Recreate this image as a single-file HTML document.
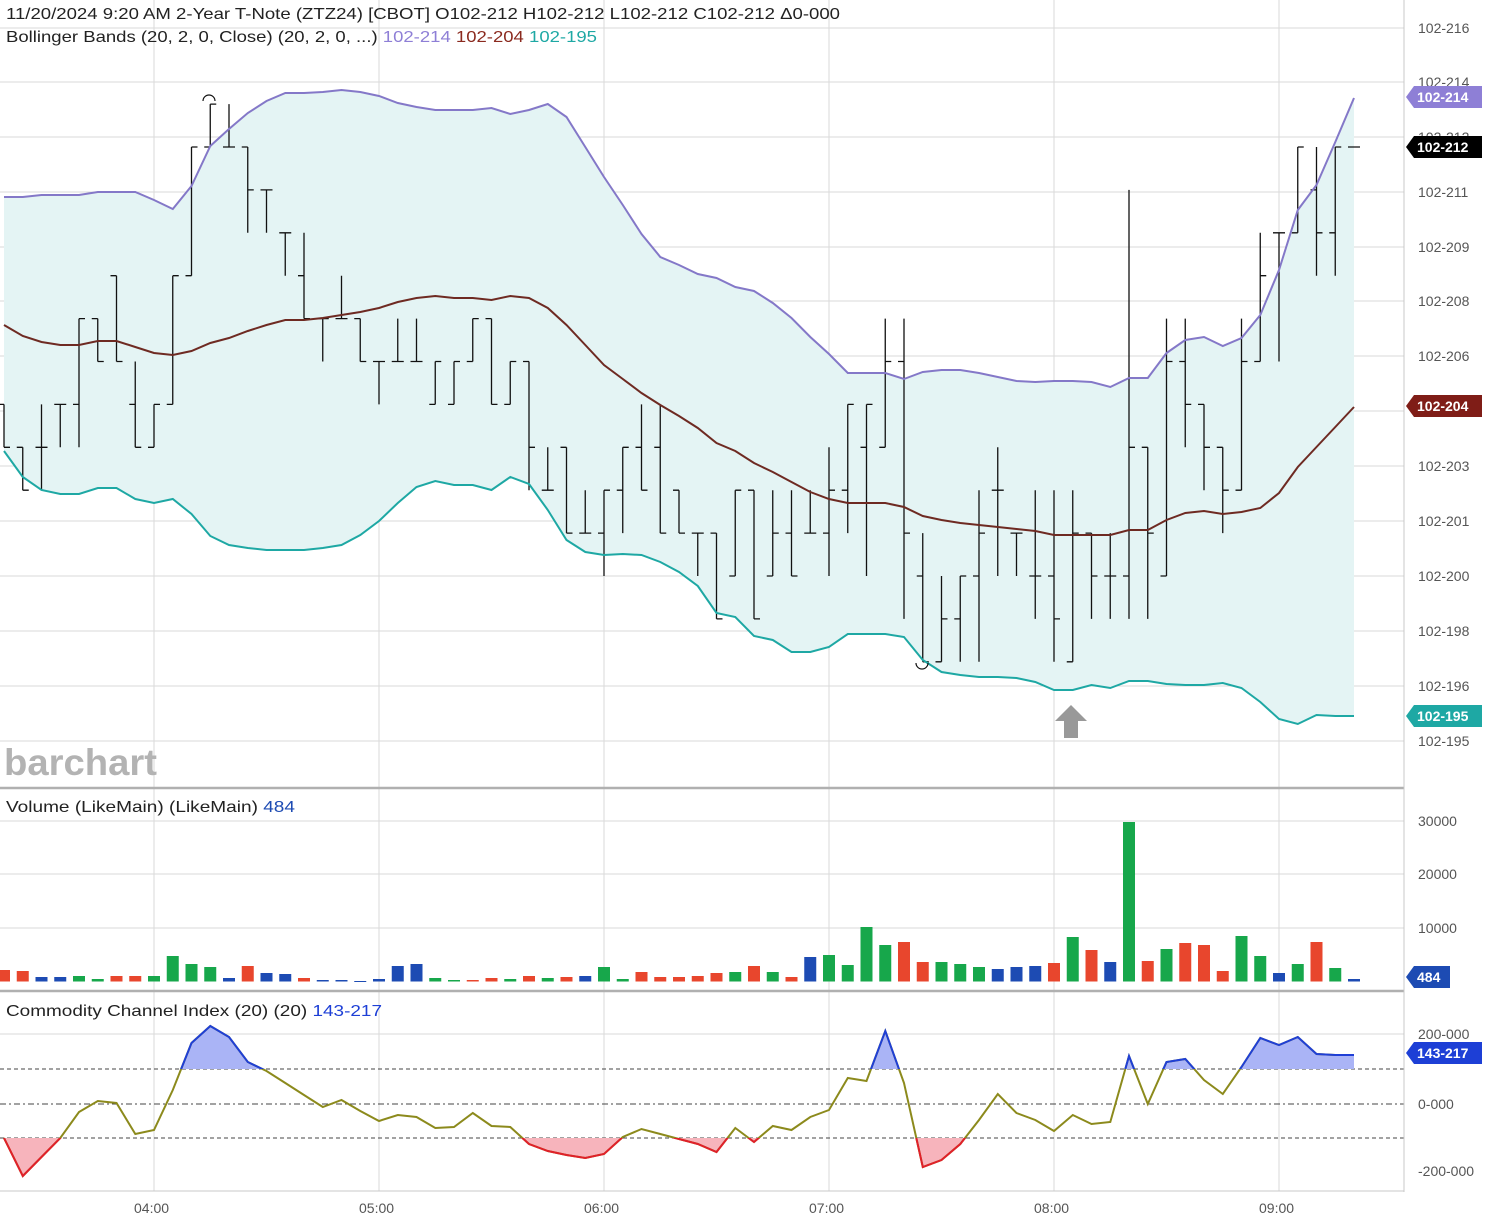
<!DOCTYPE html>
<html><head><meta charset="utf-8"><style>
html,body{margin:0;padding:0;background:#fff}
svg{display:block;font-family:"Liberation Sans",sans-serif}
</style></head><body>
<svg id="s" width="1486" height="1226" xmlns="http://www.w3.org/2000/svg">
<defs>
<clipPath id="cu"><rect x="0" y="990" width="1404" height="79"/></clipPath>
<clipPath id="cd"><rect x="0" y="1138" width="1404" height="60"/></clipPath>
</defs>
<g id="grid" stroke="#dadada" stroke-width="1"></g>
<path id="band" fill="#e4f4f4" stroke="none"/>
<g id="bars" stroke="#111" stroke-width="1.3" fill="none"></g>
<polyline id="up" fill="none" stroke="#8478c8" stroke-width="2"/>
<polyline id="mid" fill="none" stroke="#6e2a22" stroke-width="2"/>
<polyline id="lo" fill="none" stroke="#1ea8a4" stroke-width="2"/>
<path d="M203,101 a6,6 0 0 1 12,0" fill="none" stroke="#111" stroke-width="1.2"/>
<path d="M916,663 a6,6 0 0 0 12,0" fill="none" stroke="#111" stroke-width="1.2"/>
<path d="M1071,705 L1087,721 L1078,721 L1078,738 L1064,738 L1064,721 L1055,721 Z" fill="#999"/>
<text x="4" y="775" font-size="37" font-weight="bold" fill="#b3b3b3" textLength="153" lengthAdjust="spacingAndGlyphs">barchart</text>
<g id="vol"></g>
<g id="cci"></g>
<line x1="0" y1="788" x2="1404" y2="788" stroke="#b0b0b0" stroke-width="2.5"/>
<line x1="0" y1="991" x2="1404" y2="991" stroke="#b0b0b0" stroke-width="2.5"/>
<line x1="1404" y1="0" x2="1404" y2="1192" stroke="#c8c8c8" stroke-width="1"/>
<line x1="0" y1="1191" x2="1404" y2="1191" stroke="#c8c8c8" stroke-width="1"/>
<g font-size="14" fill="#555">
<text x="1418" y="33">102-216</text><text x="1418" y="87">102-214</text><text x="1418" y="142">102-212</text>
<text x="1418" y="197">102-211</text><text x="1418" y="252">102-209</text><text x="1418" y="306">102-208</text>
<text x="1418" y="361">102-206</text><text x="1418" y="471">102-203</text><text x="1418" y="526">102-201</text>
<text x="1418" y="581">102-200</text><text x="1418" y="636">102-198</text><text x="1418" y="691">102-196</text>
<text x="1418" y="746">102-195</text>
<text x="1418" y="826">30000</text><text x="1418" y="879">20000</text><text x="1418" y="933">10000</text>
<text x="1418" y="1039">200-000</text><text x="1418" y="1109">0-000</text><text x="1418" y="1176">-200-000</text>
<text x="134" y="1213">04:00</text><text x="359" y="1213">05:00</text><text x="584" y="1213">06:00</text>
<text x="809" y="1213">07:00</text><text x="1034" y="1213">08:00</text><text x="1259" y="1213">09:00</text>
</g>
<g font-size="14" font-weight="bold" fill="#fff">
<path d="M1406,97 l8,-11 h68 v22 h-68 z" fill="#8e7fd6"/><text x="1417" y="102">102-214</text>
<path d="M1406,147 l8,-11 h68 v22 h-68 z" fill="#000"/><text x="1417" y="152">102-212</text>
<path d="M1406,406 l8,-11 h68 v22 h-68 z" fill="#7f1d17"/><text x="1417" y="411">102-204</text>
<path d="M1406,716 l8,-11 h68 v22 h-68 z" fill="#1ea8a4"/><text x="1417" y="721">102-195</text>
<path d="M1406,977 l8,-11 h36 v22 h-36 z" fill="#1d4bb3"/><text x="1417" y="982">484</text>
<path d="M1406,1053 l8,-11 h68 v22 h-68 z" fill="#1d3fd6"/><text x="1417" y="1058">143-217</text>
</g>
<g font-size="16" fill="#222">
<text x="6" y="19" textLength="834" lengthAdjust="spacingAndGlyphs">11/20/2024 9:20 AM  2-Year T-Note (ZTZ24) [CBOT]  O102-212  H102-212  L102-212  C102-212  Δ0-000</text>
<text x="6" y="42" textLength="591" lengthAdjust="spacingAndGlyphs">Bollinger Bands (20, 2, 0, Close)  (20, 2, 0, ...) <tspan fill="#8e7fd6">102-214</tspan> <tspan fill="#8b2a1f">102-204</tspan> <tspan fill="#1ea8a4">102-195</tspan></text>
<text x="6" y="812" textLength="289" lengthAdjust="spacingAndGlyphs">Volume (LikeMain)  (LikeMain) <tspan fill="#1d4bb3">484</tspan></text>
<text x="6" y="1016" textLength="376" lengthAdjust="spacingAndGlyphs">Commodity Channel Index (20)  (20) <tspan fill="#1d3fd6">143-217</tspan></text>
</g>
</svg>
<script>
var NS="http://www.w3.org/2000/svg";
function el(t,a,p){var e=document.createElementNS(NS,t);for(var k in a)e.setAttribute(k,a[k]);document.getElementById(p).appendChild(e);return e;}
var g='grid';
[28,82,137,192,247,301,356,411,466,521,576,631,686,741].forEach(function(y){el('line',{x1:0,y1:y,x2:1404,y2:y},g)});
[821,874,928,1034].forEach(function(y){el('line',{x1:0,y1:y,x2:1404,y2:y},g)});
[154,379,604,829,1054,1279].forEach(function(x){el('line',{x1:x,y1:0,x2:x,y2:1191},g)});
function X(i){return 4+18.75*i}
function parse(s){return s.trim().split(/\s+/).map(Number)}
var U=parse("197 197 195 195 195 192 192 192 200 209 186 146 129 113 101 93 93 92 90 92 96 103 107 110 110 110 108 114 110 104 117 147 177 205 234 257 265 274 278 287 291 303 318 337 354 373 373 373 379 372 370 370 373 377 381 382 381 381 382 387 378 378 353 340 337 346 338 315 270 210 185 142 98");
var M=parse("325 336 342 345 345 341 341 347 353 355 351 343 338 331 325 320 320 318 315 312 308 302 298 296 298 298 300 296 298 308 325 345 365 379 393 405 416 428 443 451 463 472 482 492 499 503 503 503 507 516 520 523 525 527 529 531 535 535 535 535 530 530 520 513 511 514 512 508 493 467 447 427 407");
var L=parse("451 477 490 494 494 488 488 499 503 499 514 536 545 548 550 550 550 548 545 535 521 503 487 481 485 485 490 477 484 510 540 552 555 554 555 562 572 586 613 617 636 640 652 652 647 634 634 634 637 660 672 675 677 677 678 682 690 690 685 688 681 681 684 685 685 683 688 702 719 724 715 716 716");
function pts(a){return a.map(function(y,i){return X(i).toFixed(1)+','+y}).join(' ')}
document.getElementById('up').setAttribute('points',pts(U));
document.getElementById('mid').setAttribute('points',pts(M));
document.getElementById('lo').setAttribute('points',pts(L));
var d='M'+U.map(function(y,i){return X(i)+','+y}).join(' L');
for(var i=L.length-1;i>=0;i--)d+=' L'+X(i)+','+L[i];
document.getElementById('band').setAttribute('d',d+'Z');
var B="6,7,6,7|7,8,7,8|6,8,7,7|6,7,6,6|4,7,6,4|4,5,4,5|3,5,3,5|5,7,6,7|6,7,7,6|3,6,6,3|0,3,3,0|-1,0,0,-1|-1,0,0,0|0,2,0,1|1,2,1,1|2,3,2,2|2,4,3,4|4,5,4,4|3,4,4,4|4,5,4,5|5,6,5,5|4,5,5,5|4,5,5,5|5,6,6,5|5,6,6,5|4,5,5,4|4,6,4,6|5,6,6,5|5,8,5,7|7,8,8,8|7,9,7,9|8,9,9,9|8,10,9,8|7,9,8,7|6,8,7,8|6,9,7,9|8,9,8,9|9,10,9,9|9,11,9,11|8,10,10,8|8,11,8,11|8,10,10,9|8,10,9,10|8,9,9,9|7,10,9,8|6,9,8,6|6,10,7,6|4,7,7,5|4,11,5,9|9,12,10,12|10,12,12,11|10,12,11,10|8,12,10,9|7,10,8,8|9,10,9,9|8,11,10,10|8,12,10,11|8,12,12,9|9,11,9,10|9,11,10,10|1,11,10,7|7,11,7,9|4,10,10,5|4,7,5,6|6,8,6,7|7,9,7,8|4,8,8,5|2,5,5,3|2,5,2,2|0,2,2,0|0,3,1,2|0,3,2,0|0,0,0,0".split('|');
function Y(k){return 147+42.9*k}
B.forEach(function(s,i){var v=s.split(',').map(Number),x=X(i);
 var p='M'+x+','+Y(v[0])+' V'+Y(v[1])+' M'+(x-6)+','+Y(v[2])+' H'+x+' M'+x+','+Y(v[3])+' H'+(x+6);
 el('path',{d:p},'bars');});
var V="970r 971r 977b 977b 976g 979g 976r 976r 976g 956g 964g 967g 978b 966r 973b 974b 978r 980b 980b 981b 979b 966b 964b 978g 980g 980r 978r 979g 976r 978g 977r 976b 967g 979g 972r 977r 977r 976r 973r 972g 966r 972g 977r 957b 955g 965g 927g 945g 942r 962r 962g 964g 967g 969b 967b 966b 963r 937g 950r 962b 822g 961r 949g 943r 945r 971r 936g 956g 973b 964g 942r 968g 979b".split(' ');
var C={r:'#e8462d',g:'#17a74b',b:'#1d4bb3'};
V.forEach(function(s,i){var y=parseInt(s),c=C[s.slice(-1)];el('rect',{x:X(i)-6,y:y,width:12,height:Math.max(1,981.5-y),fill:c},'vol');});
var CC=parse("1138 1176 1157 1138 1112 1101 1103 1134 1130 1090 1043 1026 1037 1062 1071 1083 1095 1107 1100 1111 1121 1115 1117 1128 1127 1113 1126 1127 1144 1151 1155 1158 1154 1137 1129 1134 1139 1144 1152 1128 1142 1126 1130 1117 1110 1078 1081 1031 1083 1167 1160 1144 1120 1094 1113 1120 1131 1115 1124 1122 1056 1104 1062 1059 1080 1094 1067 1038 1045 1037 1054 1055 1055");
var cp=CC.map(function(y,i){return X(i).toFixed(1)+','+y}).join(' ');
el('line',{x1:0,y1:1069,x2:1404,y2:1069,stroke:'#444','stroke-dasharray':'4,3'},'cci');
el('line',{x1:0,y1:1138,x2:1404,y2:1138,stroke:'#444','stroke-dasharray':'4,3'},'cci');
el('line',{x1:0,y1:1104,x2:1404,y2:1104,stroke:'#444','stroke-dasharray':'6,3,2,3'},'cci');
el('polygon',{points:'4,1069 '+cp+' 1354,1069',fill:'#aab4f6','clip-path':'url(#cu)'},'cci');
el('polygon',{points:'4,1138 '+cp+' 1354,1138',fill:'#f7b4bc','clip-path':'url(#cd)'},'cci');
el('polyline',{points:cp,fill:'none',stroke:'#8c8a1c','stroke-width':2},'cci');
el('polyline',{points:cp,fill:'none',stroke:'#1f3fd6','stroke-width':2,'clip-path':'url(#cu)'},'cci');
el('polyline',{points:cp,fill:'none',stroke:'#e0202a','stroke-width':2,'clip-path':'url(#cd)'},'cci');
</script>
</body></html>
